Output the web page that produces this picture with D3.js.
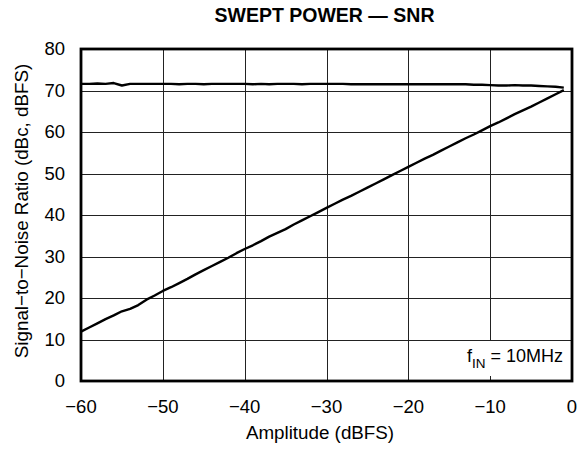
<!DOCTYPE html>
<html>
<head>
<meta charset="utf-8">
<script src="https://cdn.jsdelivr.net/npm/d3@7"></script>
<style>
  body { margin: 0; background: #fff; }
  text { font-family: "Liberation Sans", Arial, sans-serif; fill: #000; }
</style>
</head>
<body>
<svg width="581" height="451"></svg>
<script>
// amplitude in dBFS, one point per dB
const amplitude = d3.range(-60, 0);

// SNR in dBFS (top trace)
const snrDbfs = [71.6, 71.6, 71.7, 71.6, 71.8, 71.2, 71.6, 71.6, 71.6, 71.6,
                 71.6, 71.6, 71.5, 71.6, 71.6, 71.5, 71.6, 71.6, 71.6, 71.6,
                 71.6, 71.5, 71.6, 71.5, 71.6, 71.6, 71.6, 71.5, 71.6, 71.6,
                 71.6, 71.6, 71.6, 71.5, 71.5, 71.5, 71.5, 71.5, 71.5, 71.5,
                 71.5, 71.5, 71.5, 71.5, 71.5, 71.5, 71.5, 71.5, 71.4, 71.4,
                 71.3, 71.2, 71.2, 71.3, 71.2, 71.2, 71.1, 71.0, 70.9, 70.7];

// SNR in dBc (rising trace)
const snrDbc = [11.9, 12.9, 13.9, 14.9, 15.8, 16.8, 17.4, 18.3, 19.6, 20.6,
                21.7, 22.6, 23.6, 24.6, 25.7, 26.7, 27.7, 28.7, 29.7, 30.8,
                31.8, 32.7, 33.7, 34.8, 35.7, 36.6, 37.7, 38.7, 39.7, 40.7,
                41.7, 42.7, 43.7, 44.6, 45.6, 46.6, 47.6, 48.6, 49.6, 50.6,
                51.6, 52.6, 53.6, 54.5, 55.5, 56.5, 57.5, 58.5, 59.4, 60.4,
                61.4, 62.3, 63.3, 64.3, 65.2, 66.1, 67.1, 68.1, 69.1, 70.1];

const xTicks = [-60, -50, -40, -30, -20, -10, 0];
const yTicks = [0, 10, 20, 30, 40, 50, 60, 70, 80];

const svg = d3.select("svg"),
      margin = {top: 49, right: 9, bottom: 70, left: 81},
      width = +svg.attr("width") - margin.left - margin.right,
      height = +svg.attr("height") - margin.top - margin.bottom;

const g = svg.append("g").attr("transform", `translate(${margin.left},${margin.top})`);

const x = d3.scaleLinear().domain([-60, 0]).range([0, width]);
const y = d3.scaleLinear().domain([0, 80]).range([height, 0]);

const fmt = d => d < 0 ? "\u2212" + Math.abs(d) : d;

// grid
g.append("g").selectAll("line").data(xTicks.slice(1, -1)).join("line")
  .attr("x1", d => Math.round(x(d)) + 0.5).attr("x2", d => Math.round(x(d)) + 0.5)
  .attr("y1", 0).attr("y2", height)
  .attr("stroke", "#222").attr("stroke-width", 1);
g.append("g").selectAll("line").data(yTicks.slice(1, -1)).join("line")
  .attr("y1", d => Math.round(y(d)) + 0.5).attr("y2", d => Math.round(y(d)) + 0.5)
  .attr("x1", 0).attr("x2", width)
  .attr("stroke", "#222").attr("stroke-width", 1);

// annotation box
g.append("rect")
  .attr("x", width - 112).attr("y", y(10) + 1.5)
  .attr("width", 110).attr("height", 35)
  .attr("fill", "#fff");
const ann = g.append("text")
  .attr("x", width - 9).attr("y", y(10) + 22)
  .attr("text-anchor", "end")
  .style("font-size", "18px");
ann.append("tspan").text("f");
ann.append("tspan").attr("dy", 6).style("font-size", "13.5px").text("IN");
ann.append("tspan").attr("dy", -6).text(" = 10MHz");

// tick labels
g.append("g").selectAll("text").data(xTicks).join("text")
  .attr("x", d => x(d)).attr("y", height + 32)
  .attr("text-anchor", "middle")
  .style("font-size", "18.5px")
  .text(fmt);
g.append("g").selectAll("text").data(yTicks).join("text")
  .attr("x", -16).attr("y", d => y(d) + 6)
  .attr("text-anchor", "end")
  .style("font-size", "18.5px")
  .text(d => d);

// lines
const line = d3.line().x(d => x(d[0])).y(d => y(d[1]));
[snrDbfs, snrDbc].forEach(vals => {
  g.append("path")
    .datum(amplitude.map((a, i) => [a, vals[i]]))
    .attr("fill", "none")
    .attr("stroke", "#000")
    .attr("stroke-width", 2.4)
    .attr("stroke-linejoin", "round")
    .attr("d", line);
});

// frame
g.append("rect")
  .attr("x", 0).attr("y", 0).attr("width", width).attr("height", height)
  .attr("fill", "none").attr("stroke", "#000").attr("stroke-width", 2.8);

// titles
svg.append("text")
  .attr("x", margin.left + width / 2 - 2).attr("y", 22)
  .attr("text-anchor", "middle")
  .style("font-size", "19.5px").style("font-weight", "bold")
  .text("SWEPT POWER \u2014 SNR");

svg.append("text")
  .attr("x", 320).attr("y", 439)
  .attr("text-anchor", "middle")
  .style("font-size", "18.8px")
  .text("Amplitude (dBFS)");

svg.append("text")
  .attr("transform", `translate(28,211) rotate(-90)`)
  .attr("text-anchor", "middle")
  .style("font-size", "18.8px")
  .text("Signal\u2212to\u2212Noise Ratio (dBc, dBFS)");
</script>
</body>
</html>
